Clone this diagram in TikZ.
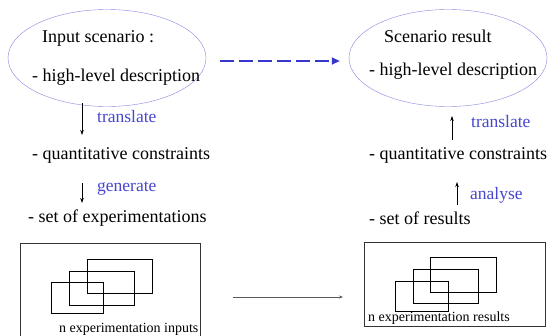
\documentclass[tikz,border=0pt]{standalone}
\usepackage{fontspec}
\setmainfont{Liberation Serif}
\usetikzlibrary{arrows.meta,shapes.geometric}
\definecolor{ellcol}{RGB}{135,135,225}
\definecolor{lblcol}{RGB}{70,70,210}
\definecolor{dashcol}{RGB}{55,55,205}
\definecolor{graycol}{RGB}{90,90,90}
\begin{document}
\begin{tikzpicture}[x=1pt,y=-1pt,
  txt/.style={inner sep=0, anchor=west, font=\rmfamily\fontsize{18}{21}\selectfont},
  lbl/.style={inner sep=0, anchor=west, text=lblcol, font=\rmfamily\fontsize{17.5}{20}\selectfont},
  small/.style={inner sep=0, anchor=west, font=\rmfamily\fontsize{14}{16}\selectfont},
  ell/.style={draw=ellcol, ellipse, minimum width=198pt, minimum height=97pt, inner sep=0},
  varrow/.style={-{Stealth[length=5pt,width=3.5pt]}, line width=0.8pt},
  box/.style={draw=black!80, line width=0.8pt},
  sub/.style={draw=black, line width=0.8pt}]
\useasboundingbox (0,0) rectangle (548,335);
\fill[white] (0,0) rectangle (548,335);

% ellipses
\node[ell] (lell) at (107,58) {};
\node[ell] (rell) at (448,58) {};
\node[txt] (in) at (42,38) {Input scenario :};
\node[txt] (lhl) at (32,77) {- high-level description};
\node[txt] (sr) at (384,36) {Scenario result};
\node[txt] (rhl) at (369,71) {- high-level description};

% dashed arrow
\draw[dashcol, line width=1.6pt, dash pattern=on 14pt off 5pt, -{Triangle[length=8pt,width=7pt]}]
  ([shift={(14,3)}]lell.east) -- ([shift={(-9,3)}]rell.west);

% left column
\node[txt] (lqc) at (32,155) {- quantitative constraints};
\node[txt] (lse) at (28,218) {- set of experimentations};
\node[lbl] (ltr) at (97,117) {translate};
\node[lbl] (lgen) at (97,188) {generate};
\coordinate (la1s) at (82,103);
\coordinate (la1e) at (82,135);
\coordinate (la2s) at (82,183);
\coordinate (la2e) at (82,203);
\draw[varrow] (la1s) -- (la1e);
\draw[varrow] (la2s) -- (la2e);

% right column
\node[txt] (rqc) at (369,155) {- quantitative constraints};
\node[txt] (rsr) at (369,218) {- set of results};
\node[lbl] (rtr) at (471,122) {translate};
\node[lbl] (ran) at (470,195) {analyse};
\coordinate (ra1s) at (452,140);
\coordinate (ra1e) at (452,116);
\coordinate (ra2s) at (457,205);
\coordinate (ra2e) at (457,182);
\draw[varrow] (ra1s) -- (ra1e);
\draw[varrow] (ra2s) -- (ra2e);

% bottom left box
\draw[box] (20,243) rectangle (200,345);
\draw[sub] (51,282) rectangle (103,313);
\draw[sub] (69,271) rectangle (134,305);
\draw[sub] (87,259) rectangle (152,293);
\node[small] (inp) at (59,329) {n experimentation inputs};

% bottom right box
\draw[box] (364,242) rectangle (545,326);
\draw[sub] (395,281) rectangle (448,311);
\draw[sub] (413,269) rectangle (478,303);
\draw[sub] (430,257) rectangle (496,292);
\node[small] (res) at (368,318) {n experimentation results};

% middle arrow
\coordinate (ma) at (233,297);
\coordinate (mb) at (343,297);
\draw[graycol, line width=1pt, -{Stealth[length=4pt,width=3pt]}] (ma) -- (mb);
\end{tikzpicture}
\end{document}
